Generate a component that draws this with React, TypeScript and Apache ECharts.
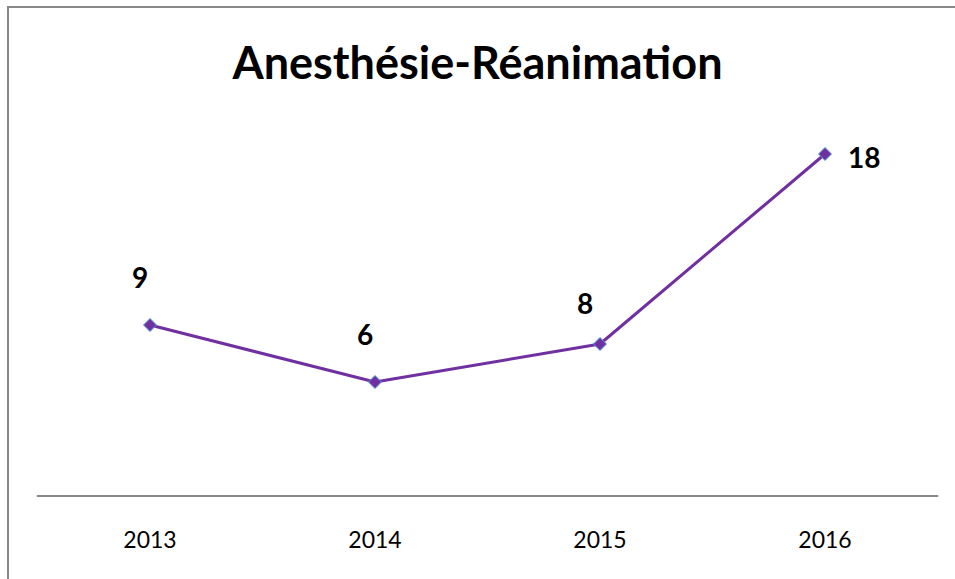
import React, { useEffect, useRef } from "react";
import * as echarts from "echarts";

const title = "Anesthésie-Réanimation";
const categories = ["2013", "2014", "2015", "2016"];
const values = [9, 6, 8, 18];

export default function App() {
  const ref = useRef<HTMLDivElement>(null);
  useEffect(() => {
    if (!ref.current) return;
    const chart = echarts.init(ref.current, null, { renderer: "svg" });
    const last = values.length - 1;
    const font = "Lato, 'Open Sans', sans-serif";
    const labelOverride = (i: number) => {
      if (i === last) return { position: "right", distance: 16, offset: [0, 3] };
      if (i === 2) return { offset: [-15, 7] };
      return undefined;
    };
    chart.setOption({
      animation: false,
      backgroundColor: "#ffffff",
      textStyle: { fontFamily: font },
      title: {
        text: title,
        left: "center",
        top: 34,
        textStyle: { fontSize: 45, fontWeight: "bold", color: "#000", fontFamily: font },
      },
      graphic: [
        { type: "line", shape: { x1: 7, y1: 7, x2: 955, y2: 7 }, style: { stroke: "#888", lineWidth: 2 } },
        { type: "line", shape: { x1: 8, y1: 6, x2: 8, y2: 579 }, style: { stroke: "#888", lineWidth: 2 } },
      ],
      grid: { left: 37.5, right: 17.5, top: 116, bottom: 83, containLabel: false },
      xAxis: {
        type: "category",
        data: categories,
        boundaryGap: true,
        axisLine: { lineStyle: { color: "#888", width: 2 } },
        axisTick: { show: false },
        axisLabel: { color: "#000", fontSize: 23, margin: 31, fontFamily: font },
      },
      yAxis: {
        type: "value",
        min: 0,
        max: 20,
        show: false,
        splitLine: { show: false },
      },
      series: [
        {
          type: "line",
          data: values.map((v, i) => {
            const o = labelOverride(i);
            return o ? { value: v, label: o } : { value: v };
          }),
          lineStyle: { color: "#7030A0", width: 3 },
          itemStyle: { color: "#7030A0", borderColor: "#4F9BD9", borderWidth: 1 },
          symbol: "diamond",
          symbolSize: 13,
          label: {
            show: true,
            position: "top",
            distance: 27,
            offset: [-10, 0],
            color: "#000",
            fontSize: 28,
            fontWeight: "bold",
            fontFamily: font,
          },
        },
      ],
    });
    return () => chart.dispose();
  }, []);
  return (
    <div
      ref={ref}
      style={{ position: "absolute", left: 0, top: 0, width: 955, height: 579 }}
    />
  );
}
